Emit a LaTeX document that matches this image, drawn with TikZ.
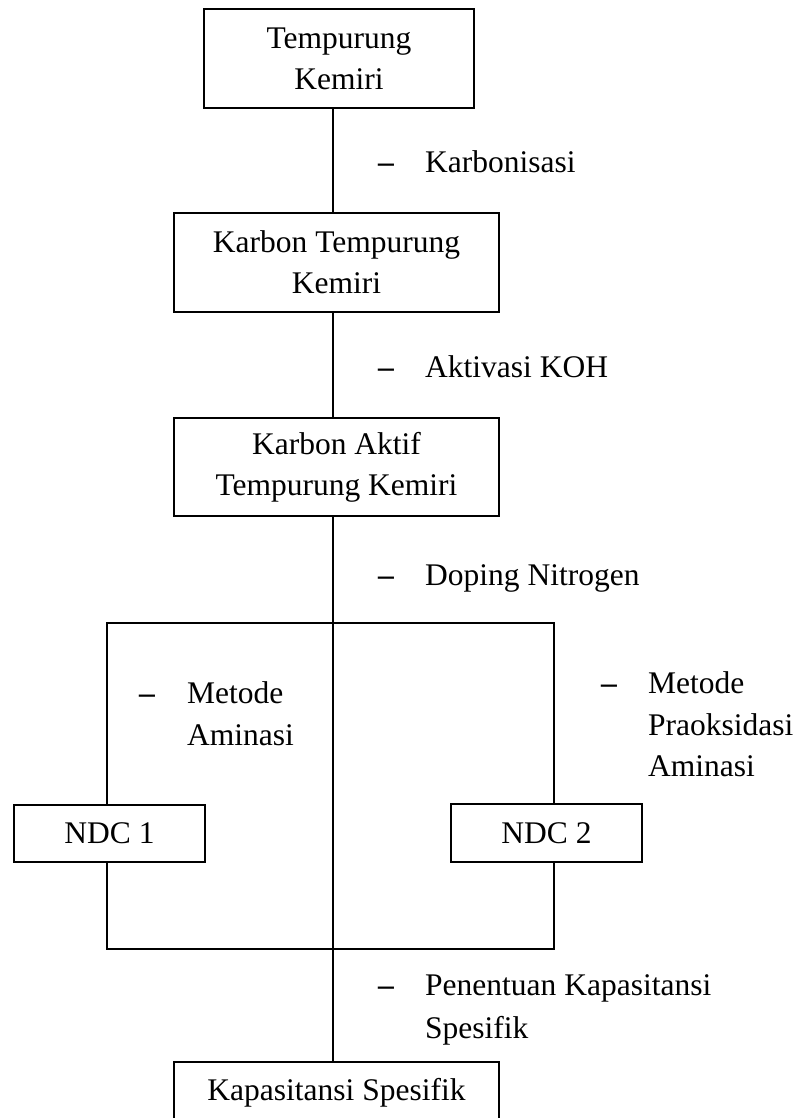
\documentclass[tikz,border=0pt]{standalone}
\usepackage{fontspec}
\setmainfont{Liberation Serif}
\begin{document}
\begin{tikzpicture}[x=1pt,y=-1pt,
  txt/.style={font=\fontsize{31.5}{41}\selectfont},
  box/.style={draw, line width=1.6pt, align=center, inner sep=0pt, txt},
  lbl/.style={anchor=base west, inner sep=0pt, txt},
  dashlbl/.style={anchor=base west, inner sep=0pt, font=\fontsize{31.5}{41}\selectfont\bfseries},
  conn/.style={line width=1.6pt}]
\useasboundingbox (0,0) rectangle (802,1118);
\fill[white] (0,0) rectangle (802,1118);

% boxes
\node[box, minimum width=270pt, minimum height=99pt] (b1) at (339,58.5) {Tempurung\\Kemiri};
\node[box, minimum width=325pt, minimum height=99pt] (b2) at (336.5,262.5) {Karbon Tempurung\\Kemiri};
\node[box, minimum width=325pt, minimum height=98pt] (b3) at (336.5,467) {Karbon Aktif\\Tempurung Kemiri};
\node[box, minimum width=191pt, minimum height=57pt] (n1) at (109.5,833.5) {NDC 1};
\node[box, minimum width=191pt, minimum height=58pt] (n2) at (546.5,833) {NDC 2};
\node[box, minimum width=325pt, minimum height=62pt] (b4) at (336.5,1093) {Kapasitansi Spesifik};

% trunk and frame coordinates
\coordinate (T) at (333,0);
\coordinate (tl) at (107,623);
\coordinate (tr) at (554,623);
\coordinate (bl) at (107,949);
\coordinate (br) at (554,949);

% connectors
\draw[conn] (b1.south -| T) -- (b2.north -| T);
\draw[conn] (b2.south -| T) -- (b3.north -| T);
\draw[conn] (b3.south -| T) -- (b4.north -| T);
\draw[conn] (n1.north -| tl) -- (tl) -- (tr) -- (n2.north -| tr);
\draw[conn] (n1.south -| bl) -- (bl) -- (br) -- (n2.south -| br);

% labels
\node[dashlbl] (d1) at (378,173) {–};
\node[lbl] (l1) at (425,173) {Karbonisasi};
\node[dashlbl] (d2) at (378,377) {–};
\node[lbl] (l2) at (425,377) {Aktivasi KOH};
\node[dashlbl] (d3) at (378,585) {–};
\node[lbl] (l3) at (425,585) {Doping Nitrogen};
\node[dashlbl] (d4) at (139,703) {–};
\node[lbl] (l4a) at (187,703) {Metode};
\node[lbl] (l4b) at (187,745) {Aminasi};
\node[dashlbl] (d5) at (601,693) {–};
\node[lbl] (l5a) at (648,693) {Metode};
\node[lbl] (l5b) at (648,735) {Praoksidasi};
\node[lbl] (l5c) at (648,776) {Aminasi};
\node[dashlbl] (d6) at (378,995) {–};
\node[lbl] (l6a) at (425,995) {Penentuan Kapasitansi};
\node[lbl] (l6b) at (425,1038) {Spesifik};
\end{tikzpicture}
\end{document}
